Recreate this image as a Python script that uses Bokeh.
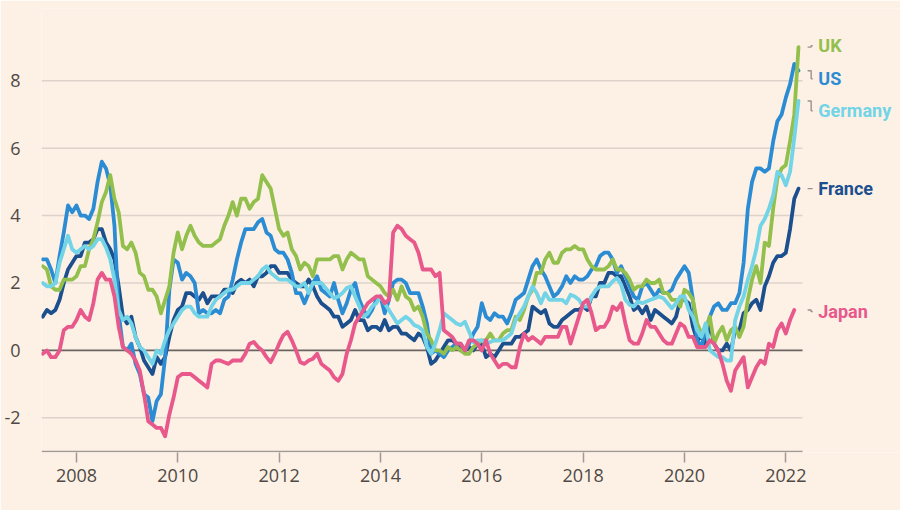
import pandas as pd
from bokeh.plotting import figure
from bokeh.models import Range1d, FixedTicker
from bokeh.core.properties import value
from bokeh.embed import file_html
from bokeh.resources import INLINE

# ---------------- data: annual % change in consumer prices, monthly, May 2007 onwards
start_month = "2007-05-01"

us = [2.7, 2.7, 2.4, 2.0, 2.8, 3.5, 4.3, 4.1,
      4.3, 4.0, 4.0, 3.9, 4.2, 5.0, 5.6, 5.4, 4.9, 3.7, 1.1, 0.1,
      0.0, 0.2, -0.4, -0.7, -1.3, -1.4, -2.1, -1.5, -1.3, -0.2, 1.8, 2.7,
      2.6, 2.1, 2.3, 2.2, 2.0, 1.1, 1.2, 1.1, 1.1, 1.2, 1.1, 1.5,
      1.6, 2.1, 2.7, 3.2, 3.6, 3.6, 3.6, 3.8, 3.9, 3.5, 3.4, 3.0,
      2.9, 2.9, 2.7, 2.3, 1.7, 1.7, 1.4, 1.7, 2.0, 2.2, 1.8, 1.7,
      1.6, 2.0, 1.5, 1.1, 1.4, 1.8, 2.0, 1.5, 1.2, 1.0, 1.2, 1.5,
      1.6, 1.1, 1.5, 2.0, 2.1, 2.1, 2.0, 1.7, 1.7, 1.7, 1.3, 0.8,
      -0.1, 0.0, -0.1, -0.2, 0.0, 0.1, 0.2, 0.2, 0.0, 0.2, 0.5, 0.7,
      1.4, 1.0, 0.9, 1.1, 1.0, 1.0, 0.8, 1.1, 1.5, 1.6, 1.7, 2.1,
      2.5, 2.7, 2.4, 2.2, 1.9, 1.6, 1.7, 1.9, 2.2, 2.0, 2.2, 2.1,
      2.1, 2.2, 2.4, 2.5, 2.8, 2.9, 2.9, 2.7, 2.3, 2.5, 2.2, 1.9,
      1.6, 1.5, 1.9, 2.0, 1.8, 1.6, 1.8, 1.7, 1.7, 1.8, 2.1, 2.3,
      2.5, 2.3, 1.5, 0.3, 0.1, 0.6, 1.0, 1.3, 1.4, 1.2, 1.2, 1.4,
      1.4, 1.7, 2.6, 4.2, 5.0, 5.4, 5.4, 5.3, 5.4, 6.2, 6.8, 7.0,
      7.5, 7.9, 8.5, 8.3]

uk = [2.5, 2.4, 1.9, 1.8, 1.8, 2.1, 2.1, 2.1,
      2.2, 2.5, 2.5, 3.0, 3.3, 3.8, 4.4, 4.7, 5.2, 4.5, 4.1, 3.1,
      3.0, 3.2, 2.9, 2.3, 2.2, 1.8, 1.8, 1.6, 1.1, 1.5, 1.9, 2.9,
      3.5, 3.0, 3.4, 3.7, 3.4, 3.2, 3.1, 3.1, 3.1, 3.2, 3.3, 3.7,
      4.0, 4.4, 4.0, 4.5, 4.5, 4.2, 4.4, 4.5, 5.2, 5.0, 4.8, 4.2,
      3.6, 3.4, 3.5, 3.0, 2.8, 2.4, 2.6, 2.5, 2.2, 2.7, 2.7, 2.7,
      2.7, 2.8, 2.8, 2.4, 2.7, 2.9, 2.8, 2.7, 2.7, 2.2, 2.1, 2.0,
      1.9, 1.7, 1.6, 1.8, 1.5, 1.9, 1.6, 1.5, 1.2, 1.3, 1.0, 0.5,
      0.3, 0.0, 0.0, -0.1, 0.1, 0.0, 0.1, 0.0, -0.1, -0.1, 0.1, 0.2,
      0.3, 0.3, 0.5, 0.3, 0.3, 0.5, 0.6, 0.6, 1.0, 0.9, 1.2, 1.6,
      1.8, 2.3, 2.3, 2.7, 2.9, 2.6, 2.6, 2.9, 3.0, 3.0, 3.1, 3.0,
      3.0, 2.7, 2.5, 2.4, 2.4, 2.4, 2.5, 2.7, 2.4, 2.4, 2.3, 2.1,
      1.8, 1.9, 1.9, 2.1, 2.0, 2.0, 2.1, 1.7, 1.7, 1.5, 1.5, 1.3,
      1.8, 1.7, 1.5, 0.8, 0.5, 0.6, 1.0, 0.2, 0.5, 0.7, 0.3, 0.6,
      0.7, 0.4, 0.7, 1.5, 2.1, 2.5, 2.0, 3.2, 3.1, 4.2, 5.1, 5.4,
      5.5, 6.2, 7.0, 9.0]

germany = [2.0, 1.9, 1.9, 2.0, 2.6, 3.0, 3.4, 3.0,
           2.9, 3.0, 3.1, 3.0, 3.1, 3.3, 3.3, 3.05, 2.7, 2.1, 1.2, 0.9,
           1.0, 0.8, 0.4, 0.1, 0.0, -0.2, -0.4, 0.0, -0.1, 0.3, 0.6, 0.8,
           1.0, 1.2, 1.3, 1.3, 1.1, 1.0, 1.0, 1.0, 1.3, 1.5, 1.6, 1.7,
           1.8, 1.8, 1.9, 2.0, 2.0, 2.0, 2.1, 2.2, 2.4, 2.5, 2.3, 2.2,
           2.1, 2.1, 2.1, 2.0, 1.9, 1.9, 2.0, 1.7, 2.0, 2.0, 2.0, 1.85,
           1.7, 1.55, 1.6, 1.7, 1.85, 1.9, 1.6, 1.3, 1.0, 1.1, 1.3, 1.4,
           1.6, 1.4, 1.2, 1.0, 0.8, 0.9, 1.0, 0.9, 0.75, 0.7, 0.6, 0.1,
           -0.1, 0.2, 0.6, 1.1, 1.0, 0.9, 0.8, 0.75, 0.85, 0.55, 0.25, 0.3,
           0.3, 0.2, 0.25, 0.3, 0.3, 0.3, 0.4, 0.5, 0.9, 1.1, 1.3, 1.6,
           1.9, 1.7, 1.4, 1.7, 1.5, 1.5, 1.5, 1.5, 1.4, 1.65, 1.6, 1.5,
           1.3, 1.3, 1.6, 1.8, 1.9, 1.9, 1.9, 2.05, 2.15, 1.95, 1.5, 1.35,
           1.3, 1.45, 1.4, 1.45, 1.5, 1.55, 1.6, 1.55, 1.4, 1.25, 1.4, 1.6,
           1.6, 1.2, 1.0, 0.6, 0.4, 0.8, 0.0, -0.1, -0.2, -0.2, -0.3, -0.3,
           0.9, 1.3, 1.6, 2.1, 2.5, 3.0, 3.7, 3.9, 4.2, 4.6, 5.3, 5.2,
           4.9, 5.3, 6.3, 7.4]

france = [1.0, 1.2, 1.1, 1.2, 1.5, 2.0, 2.4, 2.6,
          2.8, 2.8, 3.2, 3.2, 3.3, 3.6, 3.6, 3.2, 3.0, 2.7, 1.9, 1.0,
          0.8, 1.0, 0.4, 0.1, -0.3, -0.5, -0.7, -0.2, -0.4, -0.2, 0.4, 0.9,
          1.2, 1.3, 1.7, 1.7, 1.6, 1.5, 1.7, 1.4, 1.6, 1.6, 1.6, 1.8,
          1.8, 1.7, 2.0, 2.1, 2.0, 2.1, 1.9, 2.2, 2.2, 2.3, 2.5, 2.5,
          2.3, 2.3, 2.3, 2.1, 2.0, 1.9, 1.9, 2.1, 1.9, 1.6, 1.4, 1.3,
          1.2, 1.0, 1.0, 0.7, 0.8, 0.9, 1.2, 0.9, 0.9, 0.6, 0.7, 0.7,
          0.6, 0.9, 0.6, 0.7, 0.7, 0.5, 0.5, 0.4, 0.3, 0.5, 0.4, 0.1,
          -0.4, -0.3, -0.1, 0.1, 0.3, 0.3, 0.2, 0.0, 0.0, 0.1, 0.0, 0.2,
          0.2, -0.2, -0.1, -0.2, 0.0, 0.2, 0.2, 0.2, 0.4, 0.4, 0.5, 0.6,
          1.3, 1.2, 1.1, 1.2, 0.8, 0.7, 0.7, 0.9, 1.0, 1.1, 1.2, 1.2,
          1.3, 1.2, 1.6, 1.6, 2.0, 2.0, 2.3, 2.3, 2.2, 2.2, 1.9, 1.6,
          1.2, 1.3, 1.1, 1.3, 0.9, 1.2, 1.1, 1.0, 0.9, 0.8, 1.0, 1.5,
          1.5, 1.4, 0.7, 0.3, 0.4, 0.2, 0.8, 0.2, 0.0, 0.0, 0.2, 0.0,
          0.6, 0.6, 1.1, 1.2, 1.4, 1.5, 1.2, 1.9, 2.2, 2.6, 2.8, 2.8,
          2.9, 3.6, 4.5, 4.8]

japan = [-0.1, 0.0, -0.2, -0.2, 0.0, 0.6, 0.7, 0.7,
         0.9, 1.2, 1.0, 0.9, 1.4, 2.1, 2.3, 2.1, 2.1, 1.6, 0.7, 0.1,
         0.0, -0.1, -0.3, -0.6, -1.3, -2.1, -2.2, -2.3, -2.3, -2.55, -1.9, -1.4,
         -0.8, -0.7, -0.7, -0.7, -0.8, -0.9, -1.0, -1.1, -0.4, -0.3, -0.3, -0.35,
         -0.4, -0.3, -0.3, -0.3, -0.1, 0.2, 0.25, 0.1, 0.0, -0.2, -0.35, -0.1,
         0.2, 0.45, 0.55, 0.3, 0.0, -0.35, -0.4, -0.3, -0.25, -0.1, -0.4, -0.5,
         -0.6, -0.8, -0.9, -0.7, -0.1, 0.3, 0.8, 1.0, 1.2, 1.4, 1.5, 1.6,
         1.6, 1.4, 1.5, 3.5, 3.7, 3.6, 3.4, 3.3, 3.2, 2.9, 2.4, 2.4,
         2.4, 2.2, 2.3, 0.6, 0.5, 0.4, 0.2, 0.2, 0.0, 0.3, 0.3, 0.2,
         0.0, 0.3, -0.1, -0.3, -0.5, -0.4, -0.4, -0.5, -0.5, 0.1, 0.5, 0.3,
         0.4, 0.3, 0.2, 0.4, 0.4, 0.4, 0.4, 0.7, 0.7, 0.2, 0.6, 1.0,
         1.4, 1.5, 1.1, 0.6, 0.7, 0.7, 0.9, 1.3, 1.2, 1.4, 0.8, 0.3,
         0.2, 0.2, 0.5, 0.9, 0.7, 0.7, 0.5, 0.3, 0.2, 0.2, 0.5, 0.8,
         0.7, 0.4, 0.4, 0.1, 0.1, 0.1, 0.3, 0.2, 0.0, -0.4, -0.9, -1.2,
         -0.6, -0.4, -0.2, -1.1, -0.8, -0.5, -0.3, -0.4, 0.2, 0.1, 0.6, 0.8,
         0.5, 0.9, 1.2]

countries = ["France", "US", "UK", "Germany", "Japan"]
values_by_country = {"France": france, "US": us, "UK": uk, "Germany": germany, "Japan": japan}

x_ticks = [2008, 2010, 2012, 2014, 2016, 2018, 2020, 2022]
y_ticks = [-2, 0, 2, 4, 6, 8]

# ---------------- styles
colors = {"UK": "#93bf4c", "US": "#2b8cd3", "Germany": "#72d4e6",
          "France": "#1b4f8e", "Japan": "#e8588b"}
label_y = {"UK": 9.04, "US": 8.06, "Germany": 7.11, "France": 4.8, "Japan": 1.15}
label_order = ["UK", "US", "Germany", "France", "Japan"]
BG = "#fdf1e6"
FONT = "Open Sans"
LABEL_FONT = "Roboto"

X_LEFT, X_RIGHT, X_END = 2007.31, 2022.33, 2024.263
Y_BOTTOM, Y_TOP = -3.03, 10.145

def decimal_years(n):
    m = pd.date_range(start_month, periods=n, freq="MS")
    return list(m.year + (m.month - 1) / 12.0)

p = figure(width=900, height=510, output_backend="svg", toolbar_location=None,
           x_range=Range1d(X_LEFT, X_END), y_range=Range1d(Y_BOTTOM, Y_TOP),
           min_border_left=41, min_border_right=0, min_border_top=8, min_border_bottom=58)
p.background_fill_color = BG
p.border_fill_color = BG
p.outline_line_color = None
p.xgrid.visible = False
p.ygrid.visible = False

# horizontal gridlines (stop before label area)
grid_ys = [t for t in y_ticks if t != 0]
p.segment(x0=[X_LEFT] * len(grid_ys), y0=grid_ys, x1=[X_RIGHT] * len(grid_ys), y1=grid_ys,
          line_color="#ddd3ca", line_width=1.5)
p.segment(x0=[X_LEFT], y0=[0], x1=[X_RIGHT], y1=[0], line_color="#6b6460", line_width=1.6)
# bottom axis line
p.segment(x0=[X_LEFT], y0=[-3.0], x1=[X_RIGHT], y1=[-3.0], line_color="#a19993", line_width=1.6)

for c in countries:
    vals = values_by_country[c]
    p.line(decimal_years(len(vals)), vals, line_color=colors[c], line_width=3.8,
           line_join="round", line_cap="round")

# leader lines + labels
lx0, lxm, lx1 = 2022.43, 2022.50, 2022.53
xs, ys = [], []
for c in label_order:
    last = values_by_country[c][-1]
    xs.append([lx0, lxm, lxm, lx1])
    ys.append([last, last, label_y[c], label_y[c]])
p.multi_line(xs, ys, line_color="#9a928c", line_width=1.4)

p.text(x=[2022.64] * len(label_order), y=[label_y[c] for c in label_order], text=label_order,
       text_color=[colors[c] for c in label_order], text_font=value(LABEL_FONT),
       text_font_size="18px", text_font_style="bold", text_baseline="middle", text_align="left")

# axes
xa = p.xaxis[0]
xa.ticker = FixedTicker(ticks=x_ticks)
xa.axis_line_color = None
xa.major_tick_line_color = "#a19993"
xa.major_tick_line_width = 1.5
xa.major_tick_out = 10
xa.major_tick_in = 0
xa.minor_tick_line_color = None
xa.major_label_text_font = FONT
xa.major_label_text_font_size = "18px"
xa.major_label_text_color = "#4f4945"
xa.major_label_standoff = 6

ya = p.yaxis[0]
ya.ticker = FixedTicker(ticks=y_ticks)
ya.axis_line_color = None
ya.major_tick_line_color = None
ya.minor_tick_line_color = None
ya.major_label_text_font = FONT
ya.major_label_text_font_size = "18px"
ya.major_label_text_color = "#4f4945"
ya.major_label_standoff = 15
ya.major_label_overrides = {-2: "-2"}

html = file_html(p, INLINE)
html = html.replace("<body>", '<body style="background-color:%s;">' % BG, 1)
open("out.html", "w").write(html)
